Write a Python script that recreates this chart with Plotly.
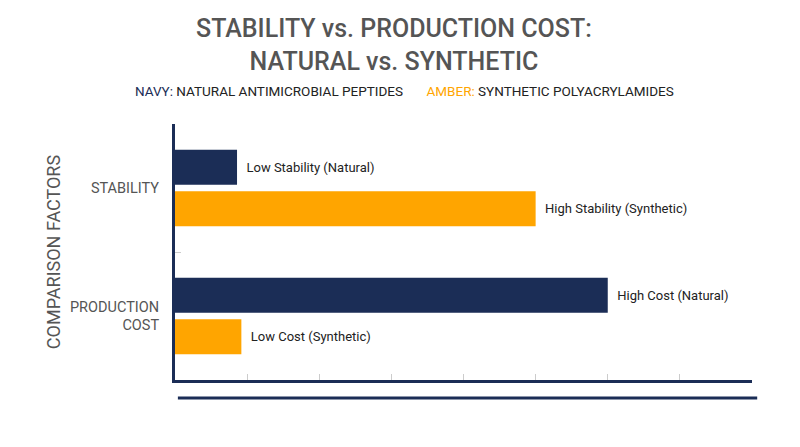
import plotly.graph_objects as go

categories = ["STABILITY", "PRODUCTION<br>COST"]
natural_values = [0.86, 6.0]
synthetic_values = [5.0, 0.92]
natural_labels = ["Low Stability (Natural)", "High Cost (Natural)"]
synthetic_labels = ["High Stability (Synthetic)", "Low Cost (Synthetic)"]
title_text = "STABILITY vs. PRODUCTION COST:<br>NATURAL vs. SYNTHETIC"

NAVY = "#1b2d56"
AMBER = "#ffa500"
PAD = "\u00a0\u00a0"

fig = go.Figure()
fig.add_trace(go.Bar(
    y=categories, x=natural_values, orientation="h", name="Natural",
    marker=dict(color=NAVY, line=dict(width=0)),
    text=[PAD + t for t in natural_labels], textposition="outside",
    textfont=dict(family="Roboto", size=13, color="#222222"),
    cliponaxis=False,
))
fig.add_trace(go.Bar(
    y=categories, x=synthetic_values, orientation="h", name="Synthetic",
    marker=dict(color=AMBER, line=dict(width=0)),
    text=[PAD + t for t in synthetic_labels], textposition="outside",
    textfont=dict(family="Roboto", size=13, color="#222222"),
    cliponaxis=False,
))

# page body has an 8px margin, so the figure is drawn 784x431
fig.update_layout(
    width=784, height=431,
    barmode="group", bargap=0.35, bargroupgap=0.16,
    showlegend=False,
    plot_bgcolor="white", paper_bgcolor="white",
    margin=dict(l=167, r=40, t=116, b=59),
    font=dict(family="Roboto", color="#555555"),
    xaxis=dict(
        range=[0, 8], dtick=1, tick0=0, showgrid=False, zeroline=False,
        showticklabels=False, ticks="inside", ticklen=6, tickcolor="#cccccc",
        showline=True, linecolor=NAVY, linewidth=3,
    ),
    yaxis=dict(
        autorange="reversed", showgrid=False, zeroline=False,
        tickson="boundaries", ticks="inside", ticklen=6, tickcolor="#cccccc",
        ticklabelstandoff=10,
        showline=True, linecolor=NAVY, linewidth=3,
        tickfont=dict(family="Roboto", size=14.5, color="#555555"),
        title=dict(text="COMPARISON FACTORS", standoff=5,
                   font=dict(family="Roboto", size=18, color="#555555")),
    ),
)

fig.add_annotation(
    xref="paper", yref="paper", x=0.3795, y=1.307, xanchor="center", yanchor="middle",
    showarrow=False, text=title_text,
    font=dict(family="Roboto", size=25, color="#555555", weight=500),
)

fig.add_annotation(
    xref="paper", yref="paper", x=0.3977, y=1.129, xanchor="center", yanchor="middle",
    showarrow=False,
    text=(f"<span style='color:{NAVY}'>NAVY:</span> NATURAL ANTIMICROBIAL PEPTIDES"
          + "\u00a0" * 7
          + f"<span style='color:{AMBER}'>AMBER:</span> SYNTHETIC POLYACRYLAMIDES"),
    font=dict(family="Roboto", size=13.5, color="#222222"),
)

fig.add_shape(
    type="line", xref="paper", yref="paper", x0=0.005, x1=1.009, y0=-0.0703, y1=-0.0703,
    line=dict(color=NAVY, width=3),
)

fig.write_html("out.html")
